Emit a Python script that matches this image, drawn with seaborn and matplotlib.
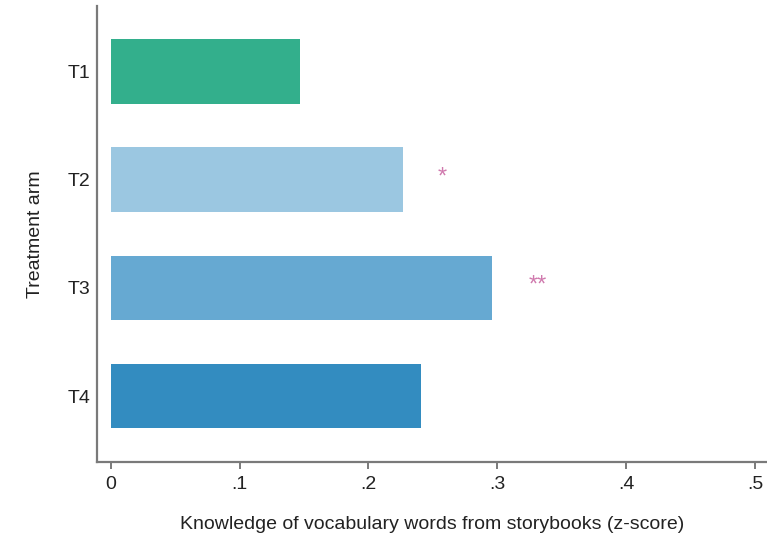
import matplotlib
matplotlib.use("Agg")
import matplotlib.pyplot as plt
import seaborn as sns
import pandas as pd

arms = ["T1", "T2", "T3", "T4"]
values = [0.147, 0.227, 0.296, 0.241]
colors = ["#33AF8C", "#9BC7E1", "#66A9D2", "#338CC0"]
star_labels = ["", "*", "**", ""]
star_x = [None, 0.257, 0.331, None]
xticks = [0, 0.1, 0.2, 0.3, 0.4, 0.5]
xticklabels = ["0", ".1", ".2", ".3", ".4", ".5"]

sns.set_style("white")
plt.rcParams["font.family"] = ["Liberation Sans", "DejaVu Sans"]

df = pd.DataFrame({"arm": arms, "value": values})

fig = plt.figure(figsize=(7.67, 5.38), dpi=100)
ax = fig.add_axes([0.1265, 0.1413, 0.8735, 0.8477])

sns.barplot(data=df, x="value", y="arm", hue="arm", palette=colors,
            orient="h", width=0.6, legend=False, ax=ax,
            edgecolor="none", saturation=1)

for i, (lab, sx) in enumerate(zip(star_labels, star_x)):
    if lab:
        ax.text(sx, i - 0.02, lab, color="#D07AAE", fontsize=17,
                ha="center", va="center")

ax.set_xlim(-0.0105, 0.509)
ax.set_ylim(3.61, -0.61)
ax.set_xticks(xticks)
ax.set_xticklabels(xticklabels)
ax.set_xlabel("Knowledge of vocabulary words from storybooks (z-score)",
              fontsize=14, color="#222222", labelpad=17)
ax.set_ylabel("Treatment arm", fontsize=14, color="#222222", labelpad=17)

for s in ["top", "right"]:
    ax.spines[s].set_visible(False)
for s in ["left", "bottom"]:
    ax.spines[s].set_color("#7a7a7a")
    ax.spines[s].set_linewidth(1.6)

ax.tick_params(axis="x", length=5, width=1.4, color="#7a7a7a",
               labelsize=14, labelcolor="#222222", pad=5, direction="out",
               bottom=True)
ax.tick_params(axis="y", length=0, labelsize=14, labelcolor="#222222", pad=5)

fig.savefig("out.png", dpi=100)
